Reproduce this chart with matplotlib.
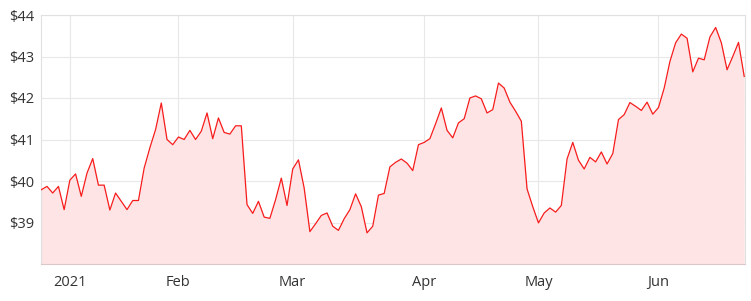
import matplotlib
matplotlib.use("Agg")
import matplotlib.pyplot as plt
import numpy as np

prices = [
    39.79, 39.87, 39.71, 39.87, 39.31, 40.02, 40.17, 39.63, 40.19, 40.54,
    39.90, 39.90, 39.30, 39.71, 39.51, 39.31, 39.53, 39.53, 40.31, 40.80,
    41.24, 41.88, 41.00, 40.875, 41.06, 41.00, 41.22, 41.00, 41.20, 41.64,
    41.02, 41.52, 41.17, 41.13, 41.33, 41.33, 39.43, 39.22, 39.51, 39.13,
    39.10, 39.55, 40.07, 39.41, 40.29, 40.51, 39.83, 38.78, 38.97, 39.17,
    39.23, 38.91, 38.81, 39.09, 39.31, 39.69, 39.38, 38.75, 38.91, 39.66,
    39.70, 40.34, 40.45, 40.53, 40.43, 40.25, 40.875, 40.93, 41.02, 41.38,
    41.76, 41.22, 41.04, 41.40, 41.50, 42.00, 42.05, 41.98, 41.64, 41.72,
    42.36, 42.24, 41.90, 41.68, 41.44, 39.81, 39.38, 38.99, 39.23, 39.35,
    39.25, 39.41, 40.53, 40.93, 40.50, 40.29, 40.57, 40.46, 40.70, 40.41,
    40.66, 41.48, 41.60, 41.89, 41.80, 41.70, 41.90, 41.61, 41.77, 42.24,
    42.88, 43.33, 43.54, 43.44, 42.63, 42.96, 42.92, 43.47, 43.70, 43.33,
    42.68, 43.00, 43.34, 42.52,
]
month_labels = ["2021", "Feb", "Mar", "Apr", "May", "Jun"]
month_start_index = [5, 24, 44, 67, 87, 108]
y_ticks = [39, 40, 41, 42, 43, 44]
y_min, y_max = 38, 44

plt.rcParams["font.family"] = ["Open Sans", "DejaVu Sans"]

fig = plt.figure(figsize=(7.51, 3.01), dpi=100)
ax = fig.add_axes([41 / 751, 37 / 301, (744.5 - 41) / 751, (264 - 15) / 301])

x = np.arange(len(prices))
ax.fill_between(x, prices, y_min, color="#fee4e4", linewidth=0, zorder=1)
ax.plot(x, prices, color="#f71c1c", linewidth=0.9, zorder=3)

ax.set_xlim(-0.05, len(prices) - 1 + 0.05)
ax.set_ylim(y_min, y_max)

ax.set_yticks(y_ticks)
ax.set_yticklabels([f"${v}" for v in y_ticks])
ax.set_xticks(month_start_index)
ax.set_xticklabels(month_labels)

ax.grid(True, color="#e8e8e8", linewidth=0.8, zorder=0)
ax.set_axisbelow(True)
ax.tick_params(axis="both", length=0, labelsize=10.5, colors="#333333")
ax.tick_params(axis="y", pad=5)
ax.tick_params(axis="x", pad=8)
for s in ax.spines.values():
    s.set_color("#e0e0e0")
    s.set_linewidth(0.8)
ax.spines["bottom"].set_color("#dcc8c8")

fig.savefig("out.png", dpi=100)
